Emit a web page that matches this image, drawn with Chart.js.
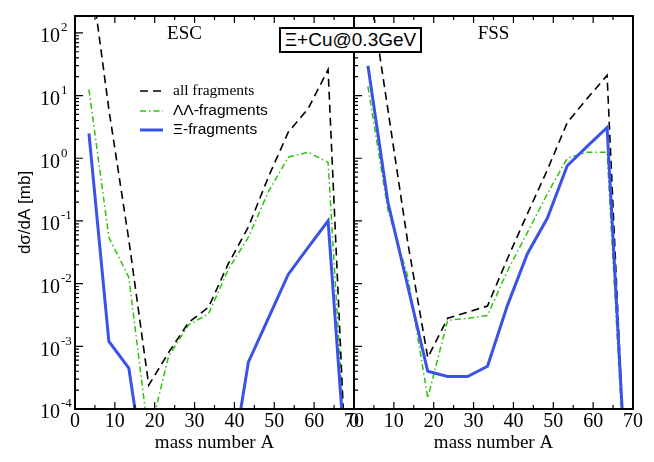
<!DOCTYPE html>
<html lang="en">
<head>
  <meta charset="UTF-8">
  <title>Xi + Cu fragment cross sections</title>
  <script src="https://cdn.jsdelivr.net/npm/chart.js"></script>
  <style>
    * {
      margin: 0;
      padding: 0;
      box-sizing: border-box;
    }

    body {
      width: 654px;
      height: 462px;
      background: #fff;
      position: relative;
      overflow: hidden;
    }

    #esc-chart {
      position: absolute;
      left: 0;
      top: 0;
    }

    #fss-chart {
      position: absolute;
      left: 340px;
      top: 0;
    }

    .reaction-box {
      position: absolute;
      left: 279px;
      top: 27px;
      width: 143px;
      height: 26px;
      border: 2px solid #000;
      background: #fff;
      font: 19px "Liberation Sans", Arial, sans-serif;
      text-align: center;
      line-height: 22px;
    }
  </style>
</head>
<body>
  <canvas id="esc-chart" width="372" height="462"></canvas>
  <canvas id="fss-chart" width="314" height="462"></canvas>
  <div class="reaction-box">Ξ+Cu@0.3GeV</div>

  <script>
    // mass number bins (centres)
    const massNumbers = [3.5, 8.5, 13.5, 18.5, 23.5, 28.5, 33.5, 38.5, 43.5, 48.5, 53.5, 58.5, 63.5, 68.5];
    const yDecades = [1e-4, 1e-3, 1e-2, 1e-1, 1e0, 1e1, 1e2];
    const seriesNames = ['all fragments', 'ΛΛ-fragments', 'Ξ-fragments'];

    // ESC model, dσ/dA in mb
    const escAll = [1500, 6, 0.05, 2.4e-4, 8e-4, 2.4e-3, 4.2e-3, 0.021, 0.08, 0.5, 2.6, 6.2, 26, 2e-6];
    const escLL = [12.5, 0.055, 0.0126, 3.5e-5, 7e-4, 2.2e-3, 3.3e-3, 0.017, 0.055, 0.29, 1.04, 1.25, 0.86, 4.5e-6];
    const escXi = [2.5, 1.2e-3, 4.5e-4, 3.5e-6, 3e-6, 3e-6, 4e-6, 6e-6, 5.6e-4, 2.8e-3, 0.014, 0.038, 0.1, 4e-6];

    // FSS model
    const fssAll = [800, 6, 0.045, 6.6e-4, 2.8e-3, 3.5e-3, 4.4e-3, 0.025, 0.13, 0.65, 3.7, 9, 21, 2e-6];
    const fssLL = [14, 0.15, 0.013, 1.5e-4, 2.6e-3, 2.8e-3, 3.1e-3, 0.016, 0.065, 0.27, 1.0, 1.25, 1.25, 2e-6];
    const fssXi = [30, 0.2, 0.009, 4e-4, 3.3e-4, 3.3e-4, 4.8e-4, 4.5e-3, 0.03, 0.11, 0.76, 1.55, 3.1, 3.5e-6];

    const serif = "'Liberation Serif', 'Times New Roman', serif";
    const sans = "'Liberation Sans', Arial, sans-serif";

    const styles = {
      all: { borderColor: '#000000', borderWidth: 1.6, borderDash: [8, 5] },
      ll: { borderColor: '#2cc20c', borderWidth: 1.5, borderDash: [6, 3, 1.5, 3] },
      xi: { borderColor: '#3a52e8', borderWidth: 3, borderDash: [] }
    };

    function toPoints(values) {
      return massNumbers.map((a, i) => ({ x: a, y: values[i] }));
    }

    function dataset(label, values, style) {
      return {
        label,
        data: toPoints(values),
        borderColor: style.borderColor,
        borderWidth: style.borderWidth,
        borderDash: style.borderDash,
        pointRadius: 0,
        tension: 0,
        fill: false
      };
    }

    // frame, inward ticks, log labels, panel name and legend
    const panelDecor = {
      id: 'panelDecor',
      afterDraw(chart, args, opts) {
        const ctx = chart.ctx;
        const { left, right, top, bottom } = chart.chartArea;
        const xs = chart.scales.x;
        const ys = chart.scales.y;
        ctx.save();
        ctx.strokeStyle = '#000';
        ctx.lineWidth = 1.2;
        ctx.beginPath();
        for (let a = 0; a <= 70; a += 5) {
          const px = xs.getPixelForValue(a);
          const len = a % 10 === 0 ? 7 : 4;
          ctx.moveTo(px, bottom);
          ctx.lineTo(px, bottom - len);
          ctx.moveTo(px, top);
          ctx.lineTo(px, top + len);
        }
        yDecades.forEach(d => {
          for (let k = 1; k <= 9; k++) {
            const v = d * k;
            if (v > ys.max) break;
            const py = ys.getPixelForValue(v);
            const len = k === 1 ? 8 : 4;
            ctx.moveTo(left, py);
            ctx.lineTo(left + len, py);
          }
        });
        ctx.stroke();

        ctx.lineWidth = 2;
        ctx.strokeRect(left, top, right - left, bottom - top);

        ctx.fillStyle = '#000';
        ctx.textBaseline = 'middle';
        if (opts.yLabels) {
          yDecades.forEach(d => {
            const py = ys.getPixelForValue(d);
            const n = Math.round(Math.log10(d));
            ctx.font = '20px ' + serif;
            ctx.textAlign = 'right';
            ctx.fillText('10', left - 15, py + 4);
            ctx.font = '13px ' + serif;
            ctx.textAlign = 'left';
            ctx.fillText(n < 0 ? '-' + (-n) : String(n), left - 14, py - 5);
          });
        }

        ctx.font = '19px ' + serif;
        ctx.textAlign = 'center';
        ctx.fillText(opts.name, (left + right) / 2 - opts.nameShift, top + 18);

        if (opts.legend) {
          const rows = [
            { text: seriesNames[0], style: styles.all, font: '15.5px ' + serif, y: 91 },
            { text: seriesNames[1], style: styles.ll, font: '15.5px ' + sans, y: 111 },
            { text: seriesNames[2], style: styles.xi, font: '15.5px ' + sans, y: 130 }
          ];
          rows.forEach(r => {
            ctx.strokeStyle = r.style.borderColor;
            ctx.lineWidth = r.style.borderWidth;
            ctx.setLineDash(r.style.borderDash);
            ctx.beginPath();
            ctx.moveTo(140, r.y);
            ctx.lineTo(163, r.y);
            ctx.stroke();
            ctx.setLineDash([]);
            ctx.font = r.font;
            ctx.textAlign = 'left';
            ctx.fillText(r.text, 173, r.y);
          });
        }
        ctx.restore();
      }
    };

    function makePanel(canvasId, name, nameShift, all, ll, xi, isLeft) {
      const ctx = document.getElementById(canvasId).getContext('2d');
      return new Chart(ctx, {
        type: 'line',
        data: {
          datasets: [
            dataset(seriesNames[2], xi, styles.xi),
            dataset(seriesNames[0], all, styles.all),
            dataset(seriesNames[1], ll, styles.ll)
          ]
        },
        options: {
          responsive: false,
          animation: false,
          events: [],
          layout: {
            padding: { left: 0, top: 16, right: isLeft ? 18 : 21, bottom: 0 }
          },
          scales: {
            x: {
              type: 'linear',
              min: 0,
              max: 70,
              grid: { display: false, drawTicks: false },
              border: { display: false },
              ticks: {
                stepSize: 10,
                autoSkip: false,
                maxRotation: 0,
                padding: 1,
                color: '#000',
                font: { family: serif, size: 20 }
              },
              title: {
                display: true,
                text: 'mass number A',
                color: '#000',
                font: { family: serif, size: 19 },
                padding: { top: 0, bottom: 8 }
              },
              afterFit: s => {
                s.height = 53;
                s.paddingLeft = 0;
                s.paddingRight = 0;
              }
            },
            y: {
              type: 'logarithmic',
              min: 1e-4,
              max: 186,
              grid: { display: false, drawTicks: false },
              border: { display: false },
              ticks: { display: false },
              title: {
                display: isLeft,
                text: 'dσ/dA [mb]',
                color: '#000',
                font: { family: sans, size: 17 },
                padding: { top: 15, bottom: 0 }
              },
              afterFit: s => {
                s.width = isLeft ? 75 : 14;
                s.paddingTop = 0;
                s.paddingBottom = 0;
              }
            }
          },
          plugins: {
            legend: { display: false },
            tooltip: { enabled: false },
            panelDecor: { name, nameShift, yLabels: isLeft, legend: isLeft }
          }
        },
        plugins: [panelDecor]
      });
    }

    makePanel('esc-chart', 'ESC', 30, escAll, escLL, escXi, true);
    makePanel('fss-chart', 'FSS', 0, fssAll, fssLL, fssXi, false);
  </script>
</body>
</html>
